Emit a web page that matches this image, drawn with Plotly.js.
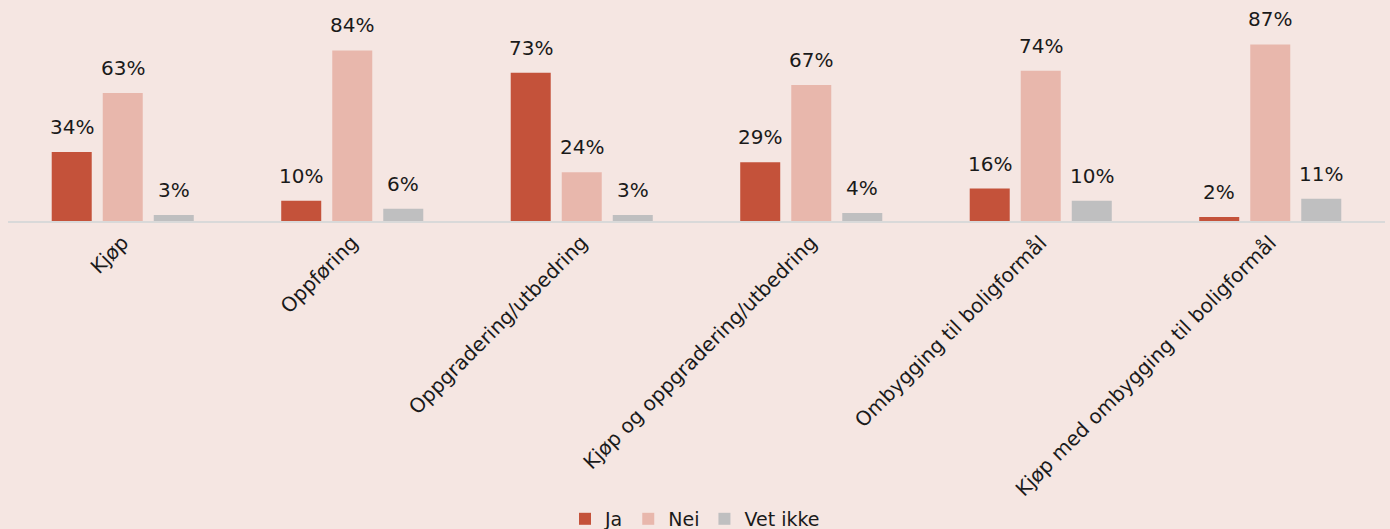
<!DOCTYPE html>
<html>
<head>
<meta charset="utf-8">
<script src="https://cdn.plot.ly/plotly-3.0.1.min.js"></script>
<style>html,body{margin:0;padding:0;background:#F5E6E2;}</style>
</head>
<body>
<div id="chart" style="width:1390px;height:529px;"></div>
<script>
const categories = ["Kjøp", "Oppføring", "Oppgradering/utbedring", "Kjøp og oppgradering/utbedring", "Ombygging til boligformål", "Kjøp med ombygging til boligformål"];
const seriesNames = ["Ja", "Nei", "Vet ikke"];
const ja = [34, 10, 73, 29, 16, 2];
const nei = [63, 84, 24, 67, 74, 87];
const vetIkke = [3, 6, 3, 4, 10, 11];
const colors = ["#C4523A", "#E8B7AC", "#BFBFC0"];

const FONT = "'DejaVu Sans', sans-serif";
const allSeries = [ja, nei, vetIkke];
const traces = allSeries.map((vals, i) => ({
  type: "bar",
  name: seriesNames[i],
  x: categories,
  y: vals,
  marker: {color: colors[i]},
  hoverinfo: "skip"
}));

const annotations = [];
const shifts = [-51, 0, 51];
allSeries.forEach((vals, i) => {
  vals.forEach((v, j) => {
    annotations.push({
      x: categories[j], y: v, xref: "x", yref: "y",
      text: v + "%", showarrow: false,
      yanchor: "bottom", yshift: 11, xshift: shifts[i],
      font: {family: FONT, size: 20, color: "#1a1a1a"}
    });
  });
});

const layout = {
  width: 1390, height: 529,
  paper_bgcolor: "#F5E6E2", plot_bgcolor: "#F5E6E2",
  margin: {l: 8, r: 5, t: 18, b: 308, autoexpand: false},
  barmode: "group", bargap: 0.333, bargroupgap: 0.216,
  showlegend: true,
  legend: {orientation: "h", x: 0.5, xref: "container", xanchor: "center",
           y: 0.019, yref: "container", yanchor: "middle",
           font: {family: FONT, size: 19, color: "#1a1a1a"}, bgcolor: "rgba(0,0,0,0)",
           itemwidth: 30, tracegroupgap: 0},
  xaxis: {type: "category", tickangle: -45, showgrid: false, zeroline: false,
          showline: true, linecolor: "#D9D9D9", linewidth: 2,
          ticks: "", tickfont: {family: FONT, size: 20, color: "#1a1a1a"}},
  yaxis: {range: [0, 100], visible: false, showgrid: false, zeroline: false, fixedrange: true},
  annotations: annotations,
  font: {family: FONT}
};

Plotly.newPlot("chart", traces, layout, {displayModeBar: false, staticPlot: true});
</script>
</body>
</html>
